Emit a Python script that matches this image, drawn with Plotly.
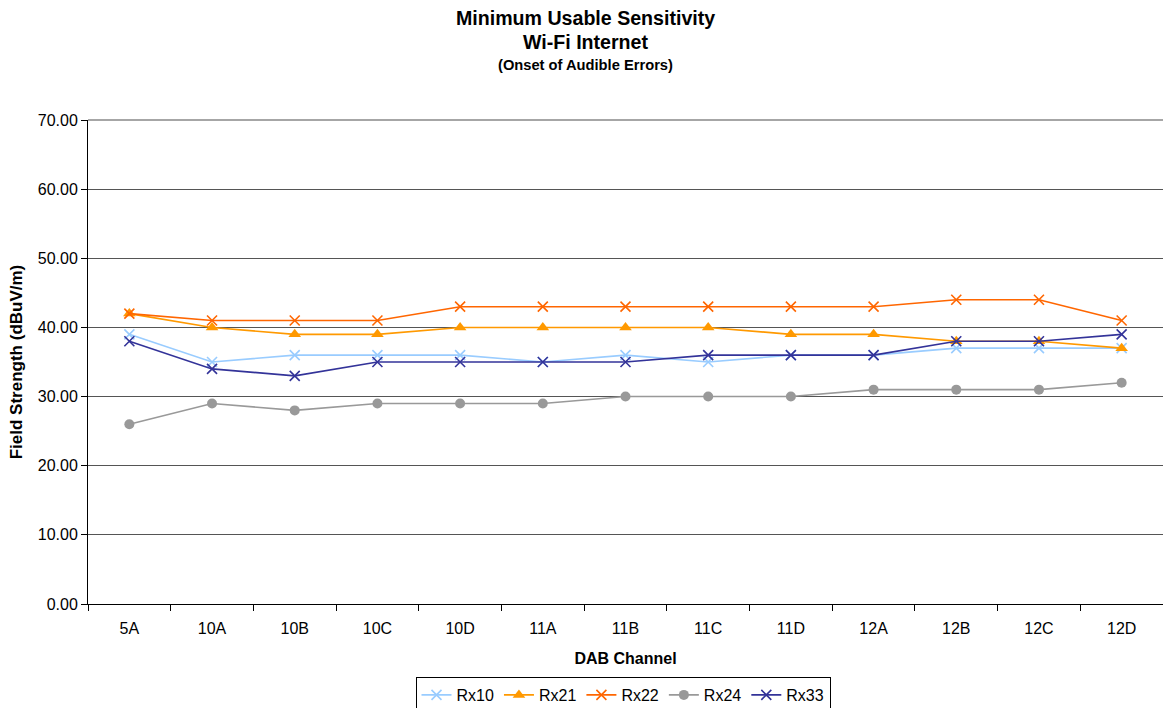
import plotly.graph_objects as go

channels = ["5A", "10A", "10B", "10C", "10D", "11A", "11B", "11C", "11D", "12A", "12B", "12C", "12D"]
rx10 = [39, 35, 36, 36, 36, 35, 36, 35, 36, 36, 37, 37, 37]
rx21 = [42, 40, 39, 39, 40, 40, 40, 40, 39, 39, 38, 38, 37]
rx22 = [42, 41, 41, 41, 43, 43, 43, 43, 43, 43, 44, 44, 41]
rx24 = [26, 29, 28, 29, 29, 29, 30, 30, 30, 31, 31, 31, 32]
rx33 = [38, 34, 33, 35, 35, 35, 35, 36, 36, 36, 38, 38, 39]

series = [
    ("Rx10", rx10, "#99CCFF", "x-thin", 10),
    ("Rx21", rx21, "#FF9900", "triangle-up", 11),
    ("Rx22", rx22, "#FF6600", "x-thin", 10),
    ("Rx24", rx24, "#999999", "circle", 10),
    ("Rx33", rx33, "#333399", "x-thin", 10),
]

fig = go.Figure()
for name, vals, color, sym, size in series:
    marker = dict(symbol=sym, size=size, color=color)
    if sym == "x-thin":
        marker["line"] = dict(color=color, width=1.6)
    fig.add_trace(go.Scatter(x=channels, y=vals, name=name, mode="lines+markers",
                             line=dict(color=color, width=1.6), marker=marker))

font = "Arial, Liberation Sans, sans-serif"
L, T, B = 88, 120, 604
H = B - T
fig.update_layout(
    width=1163, height=708,
    margin=dict(l=L, r=0, t=T, b=708 - B),
    paper_bgcolor="white", plot_bgcolor="white",
    font=dict(family=font, size=16, color="black"),
    showlegend=True,
    legend=dict(orientation="h", x=(623 - L) / 1075, xanchor="center",
                yref="container", y=1 - 677 / 708, yanchor="top",
                bordercolor="black", borderwidth=1, font=dict(size=16),
                itemwidth=30, tracegroupgap=0),
    xaxis=dict(range=[-0.5, 12.5], showline=True, linecolor="black", linewidth=1,
               ticks="outside", tickson="boundaries", ticklen=6, tickcolor="black",
               ticklabelstandoff=10,
               showgrid=False, tickfont=dict(size=16), automargin=False,
               title=dict(text="<b>DAB Channel</b>", font=dict(size=16), standoff=16)),
    yaxis=dict(range=[0, 70], dtick=10, tickformat=".2f", showline=True, linecolor="black",
               linewidth=1, ticks="outside", ticklen=6, tickcolor="black",
               showgrid=True, gridcolor="#555555", gridwidth=1, zeroline=False,
               tickfont=dict(size=16), automargin=False,
               title=dict(text="<b>Field Strength (dBuV/m)</b>", font=dict(size=17), standoff=10)),
)
fig.add_shape(type="line", xref="paper", yref="paper", x0=0, x1=1, y0=1, y1=1,
              line=dict(color="#888888", width=1.5), layer="below")
cx = (585 - L) / 1075
fig.add_annotation(text="<b>Minimum Usable Sensitivity</b>", xref="paper", yref="paper",
                   x=cx, y=1 + (T - 18) / H, showarrow=False,
                   font=dict(size=19.6), xanchor="center", yanchor="middle")
fig.add_annotation(text="<b>Wi-Fi Internet</b>", xref="paper", yref="paper",
                   x=cx, y=1 + (T - 42) / H, showarrow=False,
                   font=dict(size=19.6), xanchor="center", yanchor="middle")
fig.add_annotation(text="<b>(Onset of Audible Errors)</b>", xref="paper", yref="paper",
                   x=cx, y=1 + (T - 65) / H, showarrow=False,
                   font=dict(size=14.7), xanchor="center", yanchor="middle")
fig.write_html("out.html")
